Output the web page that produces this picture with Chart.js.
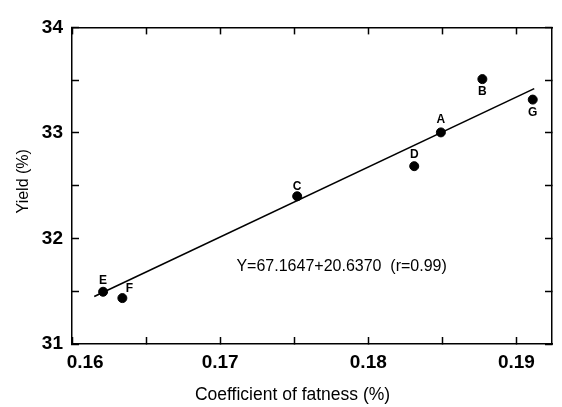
<!DOCTYPE html>
<html>
<head>
<meta charset="utf-8">
<script src="https://cdn.jsdelivr.net/npm/chart.js@4/dist/chart.umd.min.js"></script>
<style>
  html, body { margin: 0; padding: 0; background: #fff; }
  #c { display: block; }
</style>
</head>
<body>
<canvas id="c" width="562" height="407"></canvas>
<script>
// ---- data ----
const pointNames = ['A', 'B', 'C', 'D', 'E', 'F', 'G'];
const fatness    = [0.1849, 0.1877, 0.1752, 0.1831, 0.1621, 0.1634, 0.1911];
const yieldPct   = [33.005, 33.51, 32.40, 32.685, 31.495, 31.435, 33.316];
const fitLineX   = [0.1615, 0.1912];
const fitLineY   = [31.45, 33.42];
const xTickLabels = ['0.16', '0.17', '0.18', '0.19'];
const yTickLabels = ['31', '32', '33', '34'];
const equationText = 'Y=67.1647+20.6370  (r=0.99)';
const equationAnchor = [0.1711, 31.736];

// ---- label placement (style) ----
const nameOffsets = { A: [0, -13], B: [0, 13], C: [0, -10], D: [0, -11], E: [0, -11], F: [7, -9], G: [0, 13] };

const X_MIN = 0.16, X_MAX = 0.1924, Y_MIN = 31, Y_MAX = 34;
const FONT = '"Liberation Sans", Arial, Helvetica, sans-serif';

function isMajor(v, step) {
  const r = v / step;
  return Math.abs(r - Math.round(r)) < 1e-6;
}

const annotate = {
  id: 'annotate',
  afterDatasetsDraw(chart) {
    const { ctx, scales: { x, y } } = chart;
    ctx.save();
    ctx.fillStyle = '#000';
    ctx.font = 'bold 12px ' + FONT;
    ctx.textAlign = 'center';
    ctx.textBaseline = 'middle';
    pointNames.forEach((n, i) => {
      const off = nameOffsets[n] || [0, -11];
      ctx.fillText(n, x.getPixelForValue(fatness[i]) + off[0], y.getPixelForValue(yieldPct[i]) + off[1]);
    });
    ctx.font = '16px ' + FONT;
    ctx.textAlign = 'left';
    ctx.fillText(equationText, x.getPixelForValue(equationAnchor[0]), y.getPixelForValue(equationAnchor[1]));
    ctx.restore();
  }
};

const tickStyle = (len) => ({
  drawOnChartArea: false,
  drawTicks: true,
  tickLength: len,
  tickWidth: 1.5,
  tickColor: '#000'
});
const borderStyle = { display: true, color: '#000', width: 1.5 };

new Chart(document.getElementById('c'), {
  type: 'scatter',
  data: {
    datasets: [
      {
        label: 'Fit',
        type: 'line',
        data: fitLineX.map((v, i) => ({ x: v, y: fitLineY[i] })),
        borderColor: '#000',
        borderWidth: 1.6,
        pointRadius: 0,
        fill: false,
        tension: 0
      },
      {
        label: 'Samples',
        data: fatness.map((v, i) => ({ x: v, y: yieldPct[i] })),
        backgroundColor: '#000',
        borderColor: '#000',
        pointRadius: 4.5,
        pointHoverRadius: 4.5
      }
    ]
  },
  options: {
    responsive: false,
    devicePixelRatio: 1,
    animation: false,
    events: [],
    layout: { padding: 0 },
    plugins: { legend: { display: false }, tooltip: { enabled: false } },
    scales: {
      x: {
        type: 'linear', position: 'bottom', min: X_MIN, max: X_MAX,
        grid: tickStyle(-7), border: borderStyle,
        ticks: {
          stepSize: 0.005, includeBounds: false, autoSkip: false, maxRotation: 0,
          padding: 14, color: '#000',
          font: { family: FONT, size: 19, weight: 'bold' },
          callback: (v) => {
            if (!isMajor(v, 0.01)) return '';
            const lbl = xTickLabels.find(t => Math.abs(parseFloat(t) - v) < 1e-6) || '';
            return lbl === '0.16' ? '     ' + lbl : lbl;
          }
        },
        title: {
          display: true, text: 'Coefficient of fatness (%)        ', color: '#000',
          font: { family: FONT, size: 17.5 }, padding: { top: 0, bottom: 1 }
        },
        afterFit: (s) => { s.height = 63; }
      },
      x2: {
        type: 'linear', position: 'top', min: X_MIN, max: X_MAX,
        grid: tickStyle(-7), border: borderStyle,
        ticks: { stepSize: 0.005, includeBounds: false, display: false },
        afterFit: (s) => { s.height = 13; }
      },
      y: {
        type: 'linear', position: 'left', min: Y_MIN, max: Y_MAX,
        grid: tickStyle(-7), border: borderStyle,
        ticks: {
          stepSize: 0.5, includeBounds: false, autoSkip: false,
          padding: 16, color: '#000',
          font: { family: FONT, size: 19, weight: 'bold' },
          callback: (v) => isMajor(v, 1) ? (yTickLabels.find(t => Math.abs(parseFloat(t) - v) < 1e-6) || '') : ''
        },
        title: {
          display: true, text: '  Yield (%)', color: '#000',
          font: { family: FONT, size: 16 }, padding: { top: 14, bottom: 0 }
        },
        afterFit: (s) => { s.width = 72; }
      },
      y2: {
        type: 'linear', position: 'right', min: Y_MIN, max: Y_MAX,
        grid: tickStyle(-7), border: borderStyle,
        ticks: { stepSize: 0.5, includeBounds: false, display: false },
        afterFit: (s) => { s.width = 10; }
      }
    }
  },
  plugins: [annotate]
});
</script>
</body>
</html>
